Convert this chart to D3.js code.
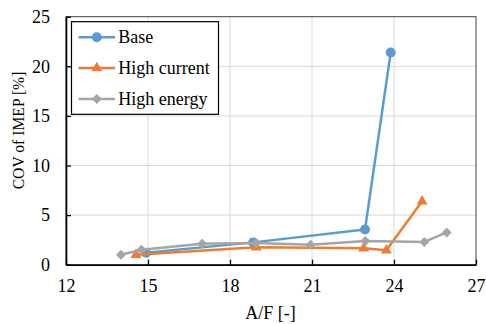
<!DOCTYPE html>
<html>
<head>
<meta charset="utf-8">
<script src="https://cdn.jsdelivr.net/npm/d3@7"></script>
</head>
<body style="margin:0">
<svg id="chart" width="486" height="324"></svg>
<script>
// values
const seriesNames = ["Base", "High current", "High energy"];
const baseAF = [14.93, 18.85, 22.94, 23.88];
const baseCov = [1.2, 2.25, 3.55, 21.4];
const currentAF = [14.56, 18.96, 22.89, 23.72, 25.03];
const currentCov = [1.0, 1.75, 1.65, 1.45, 6.4];
const energyAF = [14.01, 14.76, 16.98, 18.96, 20.95, 22.95, 25.11, 25.93];
const energyCov = [1.0, 1.5, 2.1, 2.2, 2.0, 2.4, 2.3, 3.25];
const xTicks = [12, 15, 18, 21, 24, 27];
const yTicks = [0, 5, 10, 15, 20, 25];

const FONT = '"Liberation Serif", monospace';
const colors = ["#5b9bd5", "#ed7d31", "#a5a5a5"];
const symbols = [d3.symbolCircle, d3.symbolTriangle, d3.symbolSquare];
const symSizes = [78, 52, 50];
const symRot = [0, 0, 45];

const series = [
  baseAF.map((x, i) => ({x, y: baseCov[i]})),
  currentAF.map((x, i) => ({x, y: currentCov[i]})),
  energyAF.map((x, i) => ({x, y: energyCov[i]}))
];

const svg = d3.select("#chart");
const m = {left: 66, right: 476, top: 16.7, bottom: 264.7};

const x = d3.scaleLinear().domain([12, 27]).range([m.left, m.right]);
const y = d3.scaleLinear().domain([0, 25]).range([m.bottom, m.top]);

function serif(sel, size = 18) {
  return sel.attr("font-family", "Liberation Serif")
      .style("font-family", FONT).style("font-size", size + "px").attr("fill", "#000");
}

// grid
svg.append("g").selectAll("line").data(xTicks.slice(1, -1)).join("line")
    .attr("x1", d => x(d)).attr("x2", d => x(d))
    .attr("y1", m.top).attr("y2", m.bottom)
    .attr("stroke", "#d9d9d9").attr("stroke-width", 1);
svg.append("g").selectAll("line").data(yTicks.slice(1, -1)).join("line")
    .attr("x1", m.left).attr("x2", m.right)
    .attr("y1", d => y(d)).attr("y2", d => y(d))
    .attr("stroke", "#d9d9d9").attr("stroke-width", 1);

// plot border
svg.append("rect")
    .attr("x", m.left).attr("y", m.top)
    .attr("width", m.right - m.left).attr("height", m.bottom - m.top)
    .attr("fill", "none").attr("stroke", "#404040").attr("stroke-width", 1);

// axes
const xAxis = svg.append("g")
    .attr("transform", `translate(0,${m.bottom})`)
    .call(d3.axisBottom(x).tickValues(xTicks).tickSizeInner(-5).tickSizeOuter(0).tickPadding(15));
const yAxis = svg.append("g")
    .attr("transform", `translate(${m.left},0)`)
    .call(d3.axisLeft(y).tickValues(yTicks).tickSizeInner(-5).tickSizeOuter(0).tickPadding(16));
[xAxis, yAxis].forEach(a => {
  a.attr("font-family", "Liberation Serif").attr("font-size", 18);
  a.select(".domain").attr("stroke", "#000").attr("stroke-width", 1.6);
  a.selectAll(".tick line").attr("stroke", "#000").attr("stroke-width", 1.3);
  a.selectAll(".tick text").call(serif);
});

// lines and markers
const line = d3.line().x(d => x(d.x)).y(d => y(d.y));
series.forEach((s, i) => {
  const g = svg.append("g");
  g.append("path").datum(s)
      .attr("d", line).attr("fill", "none")
      .attr("stroke", colors[i]).attr("stroke-width", 2.5)
      .attr("stroke-linejoin", "round");
  g.selectAll("path.pt").data(s).join("path")
      .attr("class", "pt")
      .attr("transform", d => `translate(${x(d.x)},${y(d.y)}) rotate(${symRot[i]})`)
      .attr("d", d3.symbol(symbols[i], symSizes[i]))
      .attr("fill", colors[i]);
});

// legend
const lg = svg.append("g").attr("transform", "translate(71.5,21.7)");
lg.append("rect").attr("width", 147).attr("height", 92.6)
    .attr("fill", "#fff").attr("stroke", "#000").attr("stroke-width", 1.2);
seriesNames.forEach((name, i) => {
  const yy = 15.6 + i * 30.8;
  lg.append("line").attr("x1", 7).attr("x2", 43.5).attr("y1", yy).attr("y2", yy)
      .attr("stroke", colors[i]).attr("stroke-width", 2.5);
  lg.append("path").attr("transform", `translate(25.3,${yy}) rotate(${symRot[i]})`)
      .attr("d", d3.symbol(symbols[i], symSizes[i]))
      .attr("fill", colors[i]);
  lg.append("text").attr("x", 46.8).attr("y", yy + 6).call(serif).text(name);
});

// axis titles
svg.append("text")
    .attr("x", 270.5).attr("y", 319)
    .attr("text-anchor", "middle").call(serif).text("A/F [-]");
svg.append("text")
    .attr("transform", "translate(23.5,130.5) rotate(-90) scale(0.92,1)")
    .attr("text-anchor", "middle").call(serif, 17).text("COV of IMEP [%]");
</script>
</body>
</html>
